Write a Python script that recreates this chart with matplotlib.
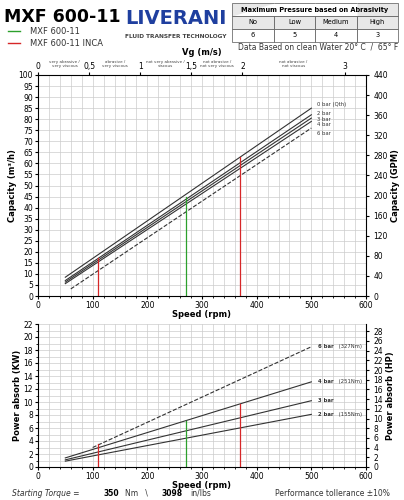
import numpy as np
import matplotlib
matplotlib.use('Agg')
import matplotlib.pyplot as plt

speed = [50, 500]
cap_labels = ['0 bar (Qth)', '2 bar', '3 bar', '4 bar', '6 bar']
cap_start = [8.5, 7.0, 6.3, 5.6, 3.2]
cap_end = [85.0, 82.0, 80.5, 79.0, 76.0]
cap_speed0 = [50, 50, 50, 50, 60]

pow_labels = ['2 bar', '3 bar', '4 bar', '6 bar']
pow_notes = [' (155Nm)', '', ' (251Nm)', ' (327Nm)']
pow_speed0 = [50, 50, 50, 100]
pow_start = [0.9, 1.1, 1.4, 3.0]
pow_end = [8.1, 10.2, 13.1, 18.5]

# marker lines: speed, capacity height, power height, color
marks = [(110, 17, 3.5, '#d62728'), (270, 45, 7.1, '#2ca02c'), (370, 63, 9.7, '#d62728')]

vg_ticks = [0, 0.5, 1, 1.5, 2, 3]
vg_labels = ['0', '0,5', '1', '1,5', '2', '3']
rpm_per_vg = 187

fig = plt.figure(figsize=(4.04, 5), dpi=100)
ax1 = fig.add_axes([0.094, 0.408, 0.812, 0.442])
ax2 = fig.add_axes([0.094, 0.066, 0.812, 0.286])

for ax in (ax1, ax2):
    ax.set_xlim(0, 600)
    ax.set_xticks(range(0, 601, 100))
    ax.set_xticks(range(0, 601, 20), minor=True)
    ax.grid(which='both', color='#cccccc', lw=0.5)
    ax.tick_params(labelsize=5.5, length=2, which='both', pad=1.5)
    ax.tick_params(which='minor', length=1.5)
    ax.set_xlabel('Speed (rpm)', fontsize=6, fontweight='bold', labelpad=0)
    for s in ['top', 'right']:
        ax.spines[s].set_visible(False)
    ax.set_axisbelow(True)

ax1.set_ylim(0, 100)
ax1.set_yticks(range(0, 101, 5))
ax1.set_ylabel('Capacity (m³/h)', fontsize=6, fontweight='bold', labelpad=1)
for i, lab in enumerate(cap_labels):
    ls = '--' if lab.startswith('6') else '-'
    ax1.plot([cap_speed0[i], 500], [cap_start[i], cap_end[i]], color='#333333', lw=0.8, ls=ls)
    off = [1.5, 0.5, -0.5, -1.5, -2.5][i]
    ax1.text(510, cap_end[i] + off, lab, fontsize=3.8, va='center', color='#333333')
for x, h, _, c in marks:
    ax1.plot([x, x], [0, h], color=c, lw=0.9)

r1 = ax1.twinx()
r1.set_ylim(0, 440)
r1.set_yticks(range(0, 441, 40))
r1.tick_params(labelsize=5.5, length=2)
r1.set_ylabel('Capacity (GPM)', fontsize=6, fontweight='bold', labelpad=2)
for s in ['top', 'left', 'bottom']:
    r1.spines[s].set_visible(False)

t1 = ax1.twiny()
t1.set_xlim(0, 600)
t1.set_xticks([v * rpm_per_vg for v in vg_ticks])
t1.set_xticklabels(vg_labels)
t1.tick_params(labelsize=5.5, length=2, pad=1)
t1.set_xlabel('Vg (m/s)', fontsize=6, fontweight='bold', labelpad=5)
for s in ['left', 'right', 'bottom']:
    t1.spines[s].set_visible(False)
for xv, txt in [(0.26, 'very abrasive /\nvery viscous'), (0.75, 'abrasive /\nvery viscous'),
                (1.25, 'not very abrasive /\nviscous'), (1.75, 'not abrasive /\nnot very viscous'),
                (2.5, 'not abrasive /\nnot viscous')]:
    t1.text(xv * rpm_per_vg, 103, txt, fontsize=3, ha='center', va='bottom', color='#444444')

ax2.set_ylim(0, 22)
ax2.set_yticks(range(0, 23, 2))
ax2.set_yticks(range(0, 23, 1), minor=True)
ax2.set_ylabel('Power absorb (KW)', fontsize=6, fontweight='bold', labelpad=1)
for i, lab in enumerate(pow_labels):
    ls = '--' if lab.startswith('6') else '-'
    ax2.plot([pow_speed0[i], 500], [pow_start[i], pow_end[i]], color='#333333', lw=0.8, ls=ls)
    ax2.text(512, pow_end[i], lab, fontsize=3.8, va='center', fontweight='bold', color='#333333')
    ax2.text(512 + 7 * len(lab), pow_end[i], pow_notes[i], fontsize=3.8, va='center', color='#333333')
for x, _, h, c in marks:
    ax2.plot([x, x], [0, h], color=c, lw=0.9)

r2 = ax2.twinx()
r2.set_ylim(0, 22 * 1.341)
r2.set_yticks(range(0, 29, 2))
r2.tick_params(labelsize=5.5, length=2)
r2.set_ylabel('Power absorb (HP)', fontsize=6, fontweight='bold', labelpad=2)
for s in ['top', 'left', 'bottom']:
    r2.spines[s].set_visible(False)

# header
fig.text(0.01, 0.965, 'MXF 600-11', fontsize=12.5, fontweight='bold', va='center')
fig.add_artist(plt.Line2D([0.02, 0.05], [0.938, 0.938], color='#2ca02c', lw=1.0))
fig.add_artist(plt.Line2D([0.02, 0.05], [0.914, 0.914], color='#d62728', lw=1.0))
fig.text(0.075, 0.938, 'MXF 600-11', fontsize=6, va='center', color='#333333')
fig.text(0.075, 0.914, 'MXF 600-11 INCA', fontsize=6, va='center', color='#333333')
fig.text(0.435, 0.962, 'LIVERANI', fontsize=14, fontweight='bold', color='#1f3f9f', ha='center', va='center')
fig.text(0.435, 0.927, 'FLUID TRANSFER TECHNOLOGY', fontsize=4.2, fontweight='bold', color='#444444', ha='center', va='center')

tax = fig.add_axes([0.575, 0.917, 0.41, 0.077])
tax.axis('off')
tb = tax.table(cellText=[['No', 'Low', 'Medium', 'High'], ['6', '5', '4', '3']],
               colLabels=['', '', '', ''], loc='center', bbox=[0, 0, 1, 1], cellLoc='center')
tb.auto_set_font_size(False)
for (r, c), cell in tb.get_celld().items():
    cell.set_fontsize(4.8)
    cell.set_linewidth(0.5)
    cell.set_edgecolor('#555555')
    if r == 1:
        cell.set_facecolor('#e8e8e8')
    if r == 0:
        cell.set_facecolor('#e8e8e8')
        cell.visible_edges = 'TB' + ('L' if c == 0 else '') + ('R' if c == 3 else '')
tax.text(0.5, 0.83, 'Maximum Pressure based on Abrasivity', fontsize=4.8, fontweight='bold', ha='center', va='center', transform=tax.transAxes)
fig.text(0.985, 0.905, 'Data Based on clean Water 20° C  /  65° F', fontsize=5.5, ha='right', va='center', color='#333333')

fy = 0.013
fig.text(0.03, fy, 'Starting Torque =', fontsize=5.5, style='italic', va='center', color='#333333')
fig.text(0.255, fy, '350', fontsize=5.5, fontweight='bold', va='center')
fig.text(0.31, fy, 'Nm   \\', fontsize=5.5, va='center', color='#333333')
fig.text(0.4, fy, '3098', fontsize=5.5, fontweight='bold', va='center')
fig.text(0.47, fy, 'in/lbs', fontsize=5.5, va='center', color='#333333')
fig.text(0.965, fy, 'Performance tollerance ±10%', fontsize=5.5, ha='right', va='center', color='#333333')

plt.savefig('out.png', dpi=100)
